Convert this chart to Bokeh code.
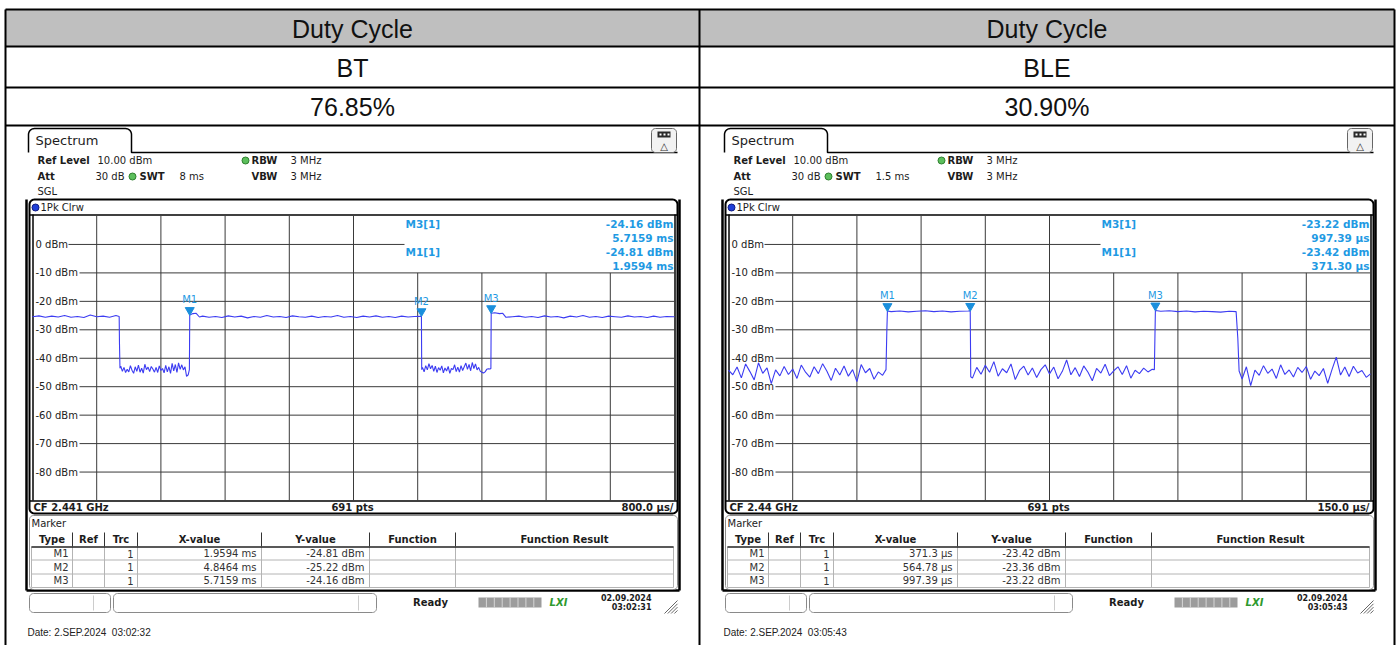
import numpy as np
from bokeh.plotting import figure
from bokeh.models import Range1d, ColumnDataSource
from bokeh.core.properties import value
from bokeh.transform import dodge
from bokeh.embed import file_html
from bokeh.resources import INLINE

# ---------------------------------------------------------------- data
header_title = "Duty Cycle"
modes = ["BT", "BLE"]
duty_cycle = ["76.85%", "30.90%"]

level_ticks_dbm = [0, -10, -20, -30, -40, -50, -60, -70, -80]
level_tick_labels = ["0 dBm", "-10 dBm", "-20 dBm", "-30 dBm", "-40 dBm",
                     "-50 dBm", "-60 dBm", "-70 dBm", "-80 dBm"]
ref_level_dbm = 10
bottom_level_dbm = -90

sweep_ms = [8.0, 1.5]
swt_text = ["8 ms", "1.5 ms"]
cf_text = ["CF 2.441 GHz", "CF 2.44 GHz"]
div_text = ["800.0 \u00b5s/", "150.0 \u00b5s/"]
screen_stamp = [("02.09.2024", "03:02:31"), ("02.09.2024", "03:05:43")]
date_text = ["Date: 2.SEP.2024\u00a0\u00a003:02:32", "Date: 2.SEP.2024\u00a0\u00a003:05:43"]

# BT trace: (time ms, level dBm)
bt_trace = [
    (0.00, -25.4), (0.08, -25.1), (0.16, -25.6), (0.24, -25.2), (0.32, -25.5), (0.40, -25.0),
    (0.48, -25.6), (0.56, -25.3), (0.64, -25.7), (0.72, -24.8), (0.80, -25.4), (0.88, -25.2),
    (0.96, -25.6), (1.04, -25.0), (1.080, -25.3), (1.084, -35.0), (1.090, -43.5),
    (1.10, -42.8), (1.12, -44.6), (1.14, -43.2), (1.16, -45.0), (1.18, -43.9), (1.20, -44.8),
    (1.22, -42.6), (1.24, -44.2), (1.26, -45.3), (1.28, -43.0), (1.30, -44.6), (1.32, -42.4),
    (1.34, -44.9), (1.36, -43.5), (1.38, -45.2), (1.40, -42.1), (1.42, -44.0), (1.44, -43.1),
    (1.46, -44.7), (1.48, -42.9), (1.50, -43.8), (1.52, -44.9), (1.54, -43.2), (1.56, -45.0),
    (1.58, -42.7), (1.60, -44.3), (1.62, -43.6), (1.64, -45.1), (1.66, -42.5), (1.68, -44.8),
    (1.70, -43.0), (1.72, -45.3), (1.74, -41.8), (1.76, -44.4), (1.78, -42.2), (1.80, -45.0),
    (1.82, -41.6), (1.84, -43.9), (1.86, -42.3), (1.88, -44.1), (1.90, -43.0), (1.92, -46.4),
    (1.94, -45.8), (1.955, -44.0), (1.9594, -24.81), (2.00, -24.3), (2.04, -24.2), (2.08, -25.5),
    (2.12, -25.2), (2.20, -25.6), (2.28, -25.3), (2.36, -25.7), (2.44, -25.1), (2.52, -25.5),
    (2.60, -25.2), (2.68, -25.8), (2.76, -25.3), (2.84, -25.6), (2.92, -25.0), (3.00, -25.5),
    (3.08, -25.3), (3.16, -25.7), (3.24, -25.1), (3.32, -25.4), (3.40, -25.6), (3.48, -25.2),
    (3.56, -25.7), (3.64, -25.3), (3.72, -25.5), (3.80, -25.0), (3.88, -25.6), (3.96, -25.3),
    (4.04, -25.7), (4.12, -25.2), (4.20, -25.5), (4.28, -25.1), (4.36, -25.6), (4.44, -25.3),
    (4.52, -25.7), (4.60, -25.2), (4.68, -25.5), (4.76, -25.3), (4.8464, -25.22), (4.850, -44.0),
    (4.86, -43.2), (4.88, -44.8), (4.90, -42.6), (4.92, -44.1), (4.94, -41.9), (4.96, -43.7),
    (4.98, -42.5), (5.00, -44.6), (5.02, -42.8), (5.04, -45.0), (5.06, -43.3), (5.08, -44.2),
    (5.10, -42.7), (5.12, -45.1), (5.14, -43.4), (5.16, -44.5), (5.18, -42.9), (5.20, -45.3),
    (5.22, -43.6), (5.24, -44.0), (5.26, -42.3), (5.28, -44.7), (5.30, -43.1), (5.32, -44.9),
    (5.34, -42.6), (5.36, -44.3), (5.38, -43.0), (5.40, -41.7), (5.42, -43.9), (5.44, -42.2),
    (5.46, -44.4), (5.48, -41.5), (5.50, -43.6), (5.52, -42.0), (5.54, -44.1), (5.56, -43.2),
    (5.58, -44.6), (5.60, -44.9), (5.62, -45.2), (5.64, -44.8), (5.66, -43.9), (5.68, -43.7),
    (5.70, -43.8), (5.712, -43.6), (5.7159, -24.16), (5.76, -24.0), (5.82, -24.3), (5.86, -24.2),
    (5.90, -25.6), (5.98, -25.4), (6.06, -25.2), (6.14, -25.6), (6.22, -25.3), (6.30, -25.7),
    (6.38, -25.1), (6.46, -25.5), (6.54, -25.3), (6.62, -25.8), (6.70, -25.2), (6.78, -25.5),
    (6.86, -25.0), (6.94, -25.6), (7.02, -25.3), (7.10, -25.7), (7.18, -25.2), (7.26, -25.4),
    (7.34, -25.6), (7.42, -25.1), (7.50, -25.5), (7.58, -25.3), (7.66, -25.7), (7.74, -25.2),
    (7.82, -25.6), (7.90, -25.3), (8.00, -25.4),
]

# BLE trace: (time ms, level dBm)
ble_trace = [
    (0.00, -44.2), (0.01, -45.8), (0.02, -43.1), (0.03, -46.9), (0.04, -42.0), (0.05, -44.7),
    (0.06, -47.6), (0.07, -41.6), (0.08, -45.3), (0.09, -43.4), (0.10, -48.9), (0.11, -44.1),
    (0.12, -46.2), (0.13, -42.9), (0.14, -45.7), (0.15, -43.8), (0.16, -47.1), (0.17, -42.4),
    (0.18, -44.9), (0.19, -46.6), (0.20, -43.0), (0.21, -45.4), (0.22, -41.9), (0.23, -44.6),
    (0.24, -47.8), (0.25, -43.5), (0.26, -45.9), (0.27, -42.7), (0.28, -46.3), (0.29, -44.0),
    (0.30, -48.2), (0.31, -42.2), (0.32, -45.1), (0.33, -43.6), (0.34, -47.4), (0.35, -44.8),
    (0.36, -46.0), (0.368, -44.0), (0.370, -30.0), (0.3713, -23.42),
    (0.38, -23.6), (0.40, -23.4), (0.42, -23.7), (0.44, -23.5), (0.46, -23.3), (0.48, -23.6),
    (0.50, -23.4), (0.52, -23.7), (0.54, -23.5), (0.56, -23.4), (0.5648, -23.36), (0.566, -46.5),
    (0.57, -47.0), (0.58, -43.2), (0.59, -45.6), (0.60, -42.5), (0.61, -44.9), (0.62, -41.2),
    (0.63, -46.3), (0.64, -43.7), (0.65, -45.1), (0.66, -42.0), (0.67, -47.5), (0.68, -44.3),
    (0.69, -42.8), (0.70, -45.9), (0.71, -43.4), (0.72, -46.8), (0.73, -44.0), (0.74, -42.3),
    (0.75, -45.5), (0.76, -43.1), (0.77, -47.2), (0.78, -44.6), (0.79, -40.6), (0.80, -45.8),
    (0.81, -43.3), (0.82, -46.4), (0.83, -42.7), (0.84, -44.9), (0.85, -47.9), (0.86, -43.6),
    (0.87, -45.2), (0.88, -42.1), (0.89, -46.1), (0.90, -44.4), (0.91, -43.0), (0.92, -45.7),
    (0.93, -42.6), (0.94, -47.0), (0.95, -44.2), (0.96, -45.4), (0.97, -43.5), (0.98, -44.8),
    (0.99, -43.9), (0.995, -44.0), (0.9974, -23.22),
    (1.01, -23.5), (1.03, -23.3), (1.05, -23.6), (1.07, -23.4), (1.09, -23.7), (1.11, -23.5),
    (1.13, -23.6), (1.15, -23.8), (1.17, -23.5), (1.186, -23.6), (1.190, -33.0), (1.193, -44.5),
    (1.20, -47.3), (1.21, -43.0), (1.22, -49.6), (1.23, -44.2), (1.24, -46.0), (1.25, -42.6),
    (1.26, -45.3), (1.27, -43.8), (1.28, -47.1), (1.29, -42.3), (1.30, -45.7), (1.31, -44.1),
    (1.32, -46.6), (1.33, -43.2), (1.34, -45.0), (1.35, -42.9), (1.36, -47.4), (1.37, -44.5),
    (1.38, -46.1), (1.39, -43.6), (1.40, -48.8), (1.41, -44.0), (1.42, -39.6), (1.43, -45.9),
    (1.44, -43.1), (1.45, -46.4), (1.46, -42.8), (1.47, -45.2), (1.48, -44.3), (1.49, -46.7),
    (1.50, -45.5),
]

marker_names = ["M1", "M2", "M3"]
bt_marker_time_ms = [1.9594, 4.8464, 5.7159]
bt_marker_level_dbm = [-24.81, -25.22, -24.16]
bt_marker_x_text = ["1.9594 ms", "4.8464 ms", "5.7159 ms"]
bt_marker_y_text = ["-24.81 dBm", "-25.22 dBm", "-24.16 dBm"]
ble_marker_time_ms = [0.3713, 0.56478, 0.99739]
ble_marker_level_dbm = [-23.42, -23.36, -23.22]
ble_marker_x_text = ["371.3 \u00b5s", "564.78 \u00b5s", "997.39 \u00b5s"]
ble_marker_y_text = ["-23.42 dBm", "-23.36 dBm", "-23.22 dBm"]
# marker readout box (M3 first, then M1)
bt_readout = [("M3[1]", "-24.16 dBm", "5.7159 ms"), ("M1[1]", "-24.81 dBm", "1.9594 ms")]
ble_readout = [("M3[1]", "-23.22 dBm", "997.39 \u00b5s"), ("M1[1]", "-23.42 dBm", "371.30 \u00b5s")]

table_columns = ["Type", "Ref", "Trc", "X-value", "Y-value", "Function", "Function Result"]

# ---------------------------------------------------------------- figure
W, H = 1399, 645
PAGE = 0
p = figure(width=W, height=H, x_range=Range1d(PAGE, PAGE + W), y_range=Range1d(PAGE + H, PAGE),
           min_border=0, toolbar_location=None, output_backend="svg",
           x_axis_location=None, y_axis_location=None)
p.grid.visible = False
p.outline_line_color = None
p.background_fill_color = "white"
p.border_fill_color = "white"

ARIAL = value("Liberation Sans")
RS = value("DejaVu Sans")
INK = "#1c1c1c"
GRID = "#3a3a3a"
TRACE = "#3c3cf2"
MARK = "#1a8fdc"
MTEXT = "#1f9ae3"


def txt(x, y, s, size=10, align="left", baseline="middle", color=INK, bold=False,
        italic=False, font=RS):
    style = "normal"
    if bold and italic:
        style = "bold italic"
    elif bold:
        style = "bold"
    elif italic:
        style = "italic"
    p.text(x=[x], y=[y], text=[s], text_font=font, text_font_size=f"{size}px",
           text_align=align, text_baseline=baseline, text_color=color, text_font_style=style)


def hline(x0, x1, y, color="black", width=1.0):
    p.segment(x0=[x0], y0=[y], x1=[x1], y1=[y], line_color=color, line_width=width)


def vline(x, y0, y1, color="black", width=1.0):
    p.segment(x0=[x], y0=[y0], x1=[x], y1=[y1], line_color=color, line_width=width)


def rounded_pts(x0, y0, x1, y1, r, n=8):
    xs, ys = [], []
    for cx, cy, a0 in [(x0 + r, y0 + r, np.pi), (x1 - r, y0 + r, 1.5 * np.pi),
                       (x1 - r, y1 - r, 0.0), (x0 + r, y1 - r, 0.5 * np.pi)]:
        a = np.linspace(a0, a0 + np.pi / 2, n)
        xs += list(cx + r * np.cos(a))
        ys += list(cy + r * np.sin(a))
    return xs, ys


def rrect(x0, y0, x1, y1, r, line_color="black", line_width=1.0, fill_color=None):
    xs, ys = rounded_pts(x0, y0, x1, y1, r)
    p.patch(xs, ys, fill_color=fill_color or "white", fill_alpha=1.0 if fill_color else 0.0,
            line_color=line_color, line_width=line_width)


# ---------------------------------------------------------------- header table
L, MID, R = 5, 699, 1394
p.quad(left=[L, MID], right=[MID, R], top=[9, 9], bottom=[46, 46],
       fill_color="#bfbfbf", line_color=None)
for yy in [9, 46, 87, 125]:
    hline(L, R, yy, width=2)
for xx in [L, MID, R]:
    vline(xx, 9, 650, width=2)
col_centers = [(L + MID) / 2, (MID + R) / 2]
for i, cx in enumerate(col_centers):
    txt(cx, 28, header_title, size=25, align="center", font=ARIAL, color="#111111")
    txt(cx, 67, modes[i], size=25, align="center", font=ARIAL, color="#111111")
    txt(cx, 106, duty_cycle[i], size=25, align="center", font=ARIAL, color="#111111")


# ---------------------------------------------------------------- analyzer panel
def draw_panel(i, ox, trace, m_time, m_level, m_xtext, m_ytext, readout):
    X = lambda x: x + ox
    name = f"p{i}"
    span = sweep_ms[i]
    x_left, x_right = X(32), X(674)
    y_top, y_bot = 215.5, 500.0
    px_ms = (x_right - x_left) / span
    px_db = (y_bot - y_top) / (ref_level_dbm - bottom_level_dbm)
    tname, dname = "t_" + name, "db_" + name
    p.extra_x_ranges[tname] = Range1d((PAGE - x_left) / px_ms, (PAGE + W - x_left) / px_ms)
    p.extra_y_ranges[dname] = Range1d(ref_level_dbm - (PAGE + H - y_top) / px_db,
                                      ref_level_dbm + (y_top - PAGE) / px_db)

    # window frame
    vline(X(26), 199, 590, width=2.5)
    vline(X(679), 199, 590, width=2.5)
    hline(X(26), X(679), 590, width=2.5)

    # tab
    tx, ty = rounded_pts(X(28), 128, X(131), 170, 6)
    tab_x = [X(28)] + tx[:16] + [X(131), X(677)]
    tab_y = [152] + ty[:16] + [152, 152]
    p.line(tab_x, tab_y, line_color="black", line_width=1.5)
    txt(X(35), 140, "Spectrum", size=13)

    # icon
    rrect(X(651), 128, X(676), 152, 4, line_color="#666666", fill_color="#f2f2f2")
    p.quad(left=[X(657)], right=[X(670)], top=[131], bottom=[137], fill_color="#2a2a2a", line_color=None)
    for k in range(3):
        p.quad(left=[X(659 + 4 * k)], right=[X(661 + 4 * k)], top=[133], bottom=[135],
               fill_color="white", line_color=None)
    txt(X(663.5), 145.5, "\u25b3", size=10, align="center", color="#333333")

    # settings
    green = dict(fill_color="#5cbf5c", line_color="#2f7f2f")
    txt(X(37), 160, "Ref Level", bold=True)
    txt(X(97), 160, "10.00 dBm")
    p.circle(x=[X(245)], y=[160], radius=3.5, **green)
    txt(X(251), 160, "RBW", bold=True)
    txt(X(290), 160, "3 MHz")
    txt(X(37), 176, "Att", bold=True)
    txt(X(124), 176, "30 dB", align="right")
    p.circle(x=[X(132)], y=[176], radius=3.5, **green)
    txt(X(139), 176, "SWT", bold=True)
    txt(X(179), 176, swt_text[i])
    txt(X(251), 176, "VBW", bold=True)
    txt(X(290), 176, "3 MHz")
    txt(X(37), 191, "SGL")

    # diagram frame
    rrect(X(29), 199, X(677), 513, 5, line_color="black", line_width=2)
    p.circle(x=[X(35)], y=[207], radius=3.5, fill_color="#1f3fd8", line_color="#101a80")
    txt(X(40), 207, "1Pk Clrw")
    hline(X(29), X(677), 214.5, width=1.5)
    vline(X(32.5), 214, 500, width=1.5)
    vline(X(674.5), 214, 500, width=1.5)
    hline(X(29), X(677), 500.5, width=1.5)
    txt(X(33), 507, cf_text[i], bold=True)
    txt(X(352), 507, "691 pts", bold=True, align="center")
    txt(X(673), 507, div_text[i], bold=True, align="right")

    # grid
    gx0 = [X(68) if lv == 0 else X(79) for lv in level_ticks_dbm]
    gx1 = [X(404) if lv == 0 else x_right for lv in level_ticks_dbm]
    p.segment(x0=gx0, y0=level_ticks_dbm, x1=gx1, y1=level_ticks_dbm, y_range_name=dname,
              line_color=GRID, line_width=1)
    divs = [span * k / 10 for k in range(1, 10)]
    tops = [ref_level_dbm if k <= 5 else -10 for k in range(1, 10)]
    p.segment(x0=divs, y0=[bottom_level_dbm] * 9, x1=divs, y1=tops,
              x_range_name=tname, y_range_name=dname, line_color=GRID, line_width=1)
    p.text(x=[X(35)] * len(level_ticks_dbm), y=level_ticks_dbm, text=level_tick_labels,
           y_range_name=dname, text_font=RS, text_font_size="10px", text_baseline="middle",
           text_color="#222222")

    # readout
    for r, (lab, lvl, tm) in enumerate(readout):
        y0 = 223 + r * 28.5
        txt(X(405), y0, lab, size=10.5, bold=True, color=MTEXT)
        txt(X(673), y0, lvl, size=10.5, bold=True, color=MTEXT, align="right")
        txt(X(673), y0 + 14.3, tm, size=10.5, bold=True, color=MTEXT, align="right")

    # trace
    t_vals = [a for a, b in trace]
    l_vals = [b for a, b in trace]
    p.line(x=t_vals, y=l_vals, x_range_name=tname, y_range_name=dname,
           line_color=TRACE, line_width=1.1)

    # markers
    src = ColumnDataSource(dict(t=m_time, lvl=m_level, name=marker_names))
    p.scatter(x="t", y=dodge("lvl", 1.7), source=src, marker="inverted_triangle", size=9,
              fill_color=MARK, line_color=MARK, x_range_name=tname, y_range_name=dname)
    p.text(x="t", y=dodge("lvl", 3.4), text="name", source=src, x_range_name=tname,
           y_range_name=dname, text_font=RS, text_font_size="10px", text_align="center",
           text_baseline="bottom", text_color=MTEXT)

    # marker table
    rrect(X(29), 515, X(677), 589, 4, line_color="#8c8c8c", line_width=1)
    txt(X(31), 523, "Marker")
    seps = [72, 104, 137, 261, 369, 455]
    bounds = [31] + seps + [673]
    for c, lab in enumerate(table_columns):
        txt(X((bounds[c] + bounds[c + 1]) / 2), 539, lab, bold=True, align="center")
    for s in seps:
        vline(X(s), 532, 546, color="#333333", width=1)
    for s in bounds:
        vline(X(s), 546, 587, color="#b4b4b4", width=1)
    for yy in [559.5, 573.5, 587]:
        hline(X(31), X(673), yy, color="#b4b4b4", width=1)
    hline(X(31), X(673), 546.5, color="#222222", width=1.5)
    for r in range(3):
        yy = 553 + r * 13.6
        txt(X(68), yy, marker_names[r], align="right", color="#333333")
        txt(X(133), yy, "1", align="right", color="#333333")
        txt(X(256), yy, m_xtext[r], align="right", color="#333333")
        txt(X(364), yy, m_ytext[r], align="right", color="#333333")

    # status bar
    rrect(X(29), 593, X(110), 612, 4, line_color="#8a8a8a")
    vline(X(93), 595, 610, color="#cccccc")
    rrect(X(113), 593, X(376), 612, 4, line_color="#8a8a8a")
    vline(X(358), 595, 610, color="#cccccc")
    txt(X(430), 602, "Ready", bold=True, align="center")
    p.quad(left=[X(478)], right=[X(541)], top=[597], bottom=[607],
           fill_color="#9c9c9c", line_color=None)
    for k in range(1, 8):
        vline(X(478 + k * 7.9), 597, 607, color="#d6d6d6", width=1)
    txt(X(558), 602, "LXI", bold=True, italic=True, align="center", color="#2e9a2e")
    txt(X(651), 597, screen_stamp[i][0], size=8, bold=True, align="right")
    txt(X(651), 607, screen_stamp[i][1], size=8, bold=True, align="right")
    for k in range(4):
        p.segment(x0=[X(664 + k * 3.3)], y0=[613], x1=[X(677)], y1=[600 + k * 3.3],
                  line_color="#666666", line_width=1)

    txt(X(27), 632, date_text[i], size=10, font=ARIAL, color="#222222")


draw_panel(0, 0, bt_trace, bt_marker_time_ms, bt_marker_level_dbm,
           bt_marker_x_text, bt_marker_y_text, bt_readout)
draw_panel(1, 696, ble_trace, ble_marker_time_ms, ble_marker_level_dbm,
           ble_marker_x_text, ble_marker_y_text, ble_readout)

open("out.html", "w").write(file_html(p, INLINE))
